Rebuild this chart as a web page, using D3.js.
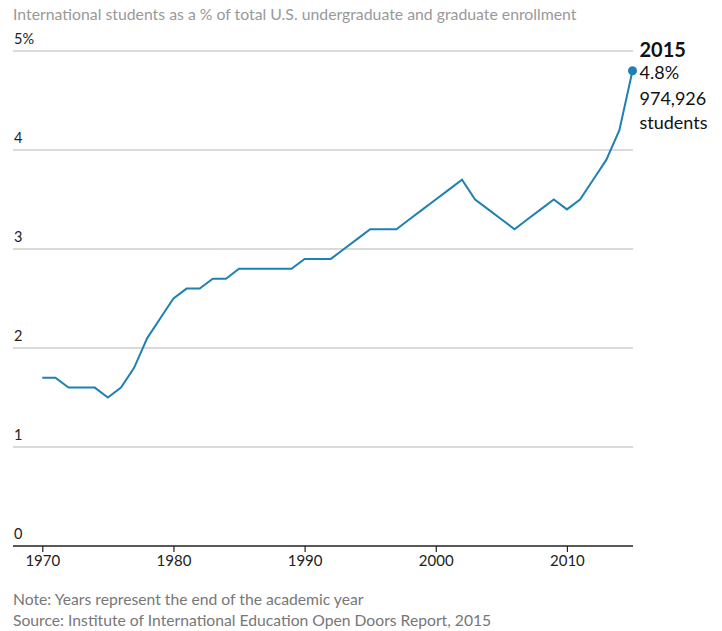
<!DOCTYPE html>
<html>
<head>
<meta charset="utf-8">
<script src="https://cdn.jsdelivr.net/npm/d3@7"></script>
<style>
  html, body { margin: 0; padding: 0; background: #fff; }
  svg { display: block; font-family: Lato, "Open Sans", sans-serif; }
</style>
</head>
<body>
<svg id="chart" width="722" height="631"></svg>
<script>
const years = [1970,1971,1972,1973,1974,1975,1976,1977,1978,1979,1980,1981,1982,1983,1984,1985,1986,1987,1988,1989,1990,1991,1992,1993,1994,1995,1996,1997,1998,1999,2000,2001,2002,2003,2004,2005,2006,2007,2008,2009,2010,2011,2012,2013,2014,2015];
const shares = [1.7,1.7,1.6,1.6,1.6,1.5,1.6,1.8,2.1,2.3,2.5,2.6,2.6,2.7,2.7,2.8,2.8,2.8,2.8,2.8,2.9,2.9,2.9,3.0,3.1,3.2,3.2,3.2,3.3,3.4,3.5,3.6,3.7,3.5,3.4,3.3,3.2,3.3,3.4,3.5,3.4,3.5,3.7,3.9,4.2,4.8];
const yTicks = [0,1,2,3,4,5];
const xTicks = [1970,1980,1990,2000,2010];
const titleText = "International students as a % of total U.S. undergraduate and graduate enrollment";
const noteText = "Note: Years represent the end of the academic year";
const sourceText = "Source: Institute of International Education Open Doors Report, 2015";
const lastLabel = ["2015", "4.8%", "974,926", "students"];

const data = years.map((y, i) => ({ year: y, value: shares[i] }));

const svg = d3.select("#chart");
const left = 13, right = 633;
const x = d3.scaleLinear().domain([1970, 2015]).range([42.3, 632.5]);
const y = d3.scaleLinear().domain([0, 5]).range([546, 51]);

// Title
svg.append("text").attr("x", 13).attr("y", 20)
  .attr("fill", "#999").attr("font-size", 15.8).text(titleText);

// Gridlines + y labels
const g = svg.append("g");
yTicks.filter(t => t > 0).forEach(t => {
  g.append("line").attr("x1", left).attr("x2", right)
    .attr("y1", y(t)).attr("y2", y(t))
    .attr("stroke", "#b5b5b5").attr("stroke-width", 1);
});
yTicks.forEach(t => {
  g.append("text").attr("x", 14).attr("y", y(t) - 7)
    .attr("fill", "#222").attr("font-size", 14.5)
    .text(t === 5 ? t + "%" : t);
});

// X axis
const xAxis = d3.axisBottom(x).tickValues(xTicks).tickFormat(d3.format("d")).tickSize(6).tickSizeOuter(0);
const ax = svg.append("g").attr("transform", `translate(0,${y(0)})`).call(xAxis);
ax.select(".domain").remove();
ax.append("line").attr("x1", left).attr("x2", right).attr("y1", 0).attr("y2", 0)
  .attr("stroke", "#222").attr("stroke-width", 1.5);
ax.selectAll(".tick line").attr("stroke", "#222").attr("stroke-width", 1.2);
ax.selectAll(".tick text").attr("fill", "#222").attr("font-size", 15)
  .attr("font-family", "Lato, 'Open Sans', sans-serif").attr("dy", "0.95em").attr("y", 6);

// Line
const line = d3.line().x(d => x(d.year)).y(d => y(d.value));
svg.append("path").datum(data).attr("d", line)
  .attr("fill", "none").attr("stroke", "#1f80b2").attr("stroke-width", 2)
  .attr("stroke-linejoin", "miter");

const last = data[data.length - 1];
svg.append("circle").attr("cx", x(last.year)).attr("cy", y(last.value)).attr("r", 4.5)
  .attr("fill", "#1f80b2");

// End label
const lx = x(last.year) + 7;
svg.append("text").attr("x", lx).attr("y", 57).attr("font-size", 20).attr("font-weight", "bold")
  .attr("fill", "#111").text(lastLabel[0]);
svg.append("text").attr("x", lx).attr("y", 79).attr("font-size", 18).attr("fill", "#111").text(lastLabel[1]);
svg.append("text").attr("x", lx).attr("y", 105).attr("font-size", 18).attr("fill", "#111").text(lastLabel[2]);
svg.append("text").attr("x", lx).attr("y", 129).attr("font-size", 18).attr("fill", "#111").text(lastLabel[3]);

// Notes
svg.append("text").attr("x", 13).attr("y", 605).attr("font-size", 15.7).attr("fill", "#777").text(noteText);
svg.append("text").attr("x", 13).attr("y", 626).attr("font-size", 15.7).attr("fill", "#777").text(sourceText);
</script>
</body>
</html>
